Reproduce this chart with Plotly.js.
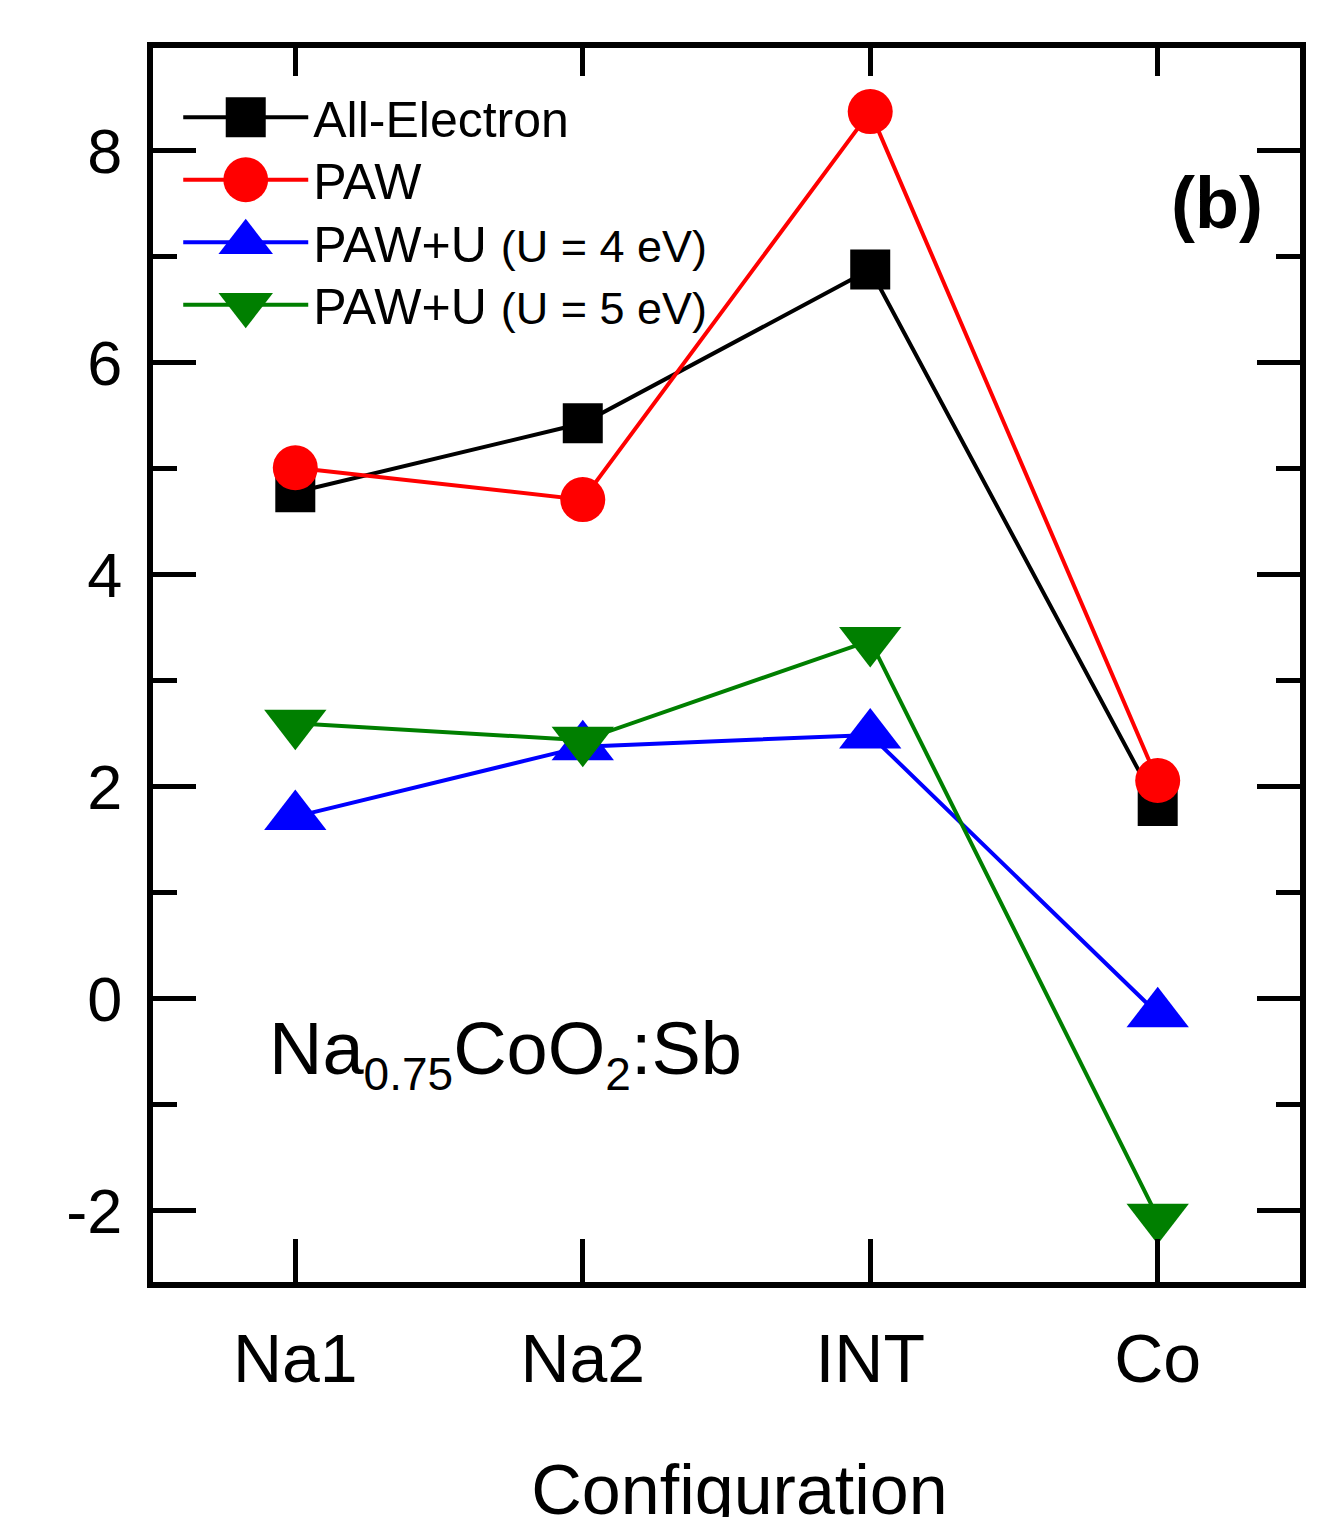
<!DOCTYPE html>
<html>
<head>
<meta charset="utf-8">
<script src="https://cdn.plot.ly/plotly-3.0.1.min.js"></script>
<style>
html,body{margin:0;padding:0;background:#ffffff;}
#chart{width:1324px;height:1517px;}
</style>
</head>
<body>
<div id="chart"></div>
<script>
// ---- data ----
const categories = ["Na1", "Na2", "INT", "Co"];
const allElectron = [4.78, 5.43, 6.88, 1.82];
const paw = [5.01, 4.71, 8.37, 2.06];
const pawU4 = [1.72, 2.38, 2.49, -0.14];
const pawU5 = [2.60, 2.44, 3.38, -2.06];
const seriesNames = [
  "All-Electron",
  "PAW",
  "PAW+U <span style=\"font-size:45px\">(U = 4 eV)</span>",
  "PAW+U <span style=\"font-size:45px\">(U = 5 eV)</span>"
];
const yTickVals = [-2, 0, 2, 4, 6, 8];
const yTickText = ["-2", "0", "2", "4", "6", "8"];

const FONT = "Liberation Sans, Arial, sans-serif";

function mk(y, name, color, symbol, size) {
  return {
    x: categories, y: y, name: name, type: "scatter", mode: "lines+markers",
    line: {color: color, width: 4},
    marker: {color: color, symbol: symbol, size: size, line: {width: 0}},
    cliponaxis: false
  };
}
const traces = [
  mk(allElectron, seriesNames[0], "#000000", "square", 40),
  mk(paw, seriesNames[1], "#ff0000", "circle", 45),
  mk(pawU4, seriesNames[2], "#0000ff", "triangle-up", 54),
  mk(pawU5, seriesNames[3], "#007f00", "triangle-down", 54),
  // carrier for the top (mirrored) tick axis, draws nothing
  {x: categories, y: allElectron, xaxis: "x2", yaxis: "y", type: "scatter", mode: "none",
   showlegend: false, hoverinfo: "skip"}
];
const legendScale = [2.5, 2.8, 2.95, 2.95];

const layout = {
  width: 1324, height: 1517,
  paper_bgcolor: "#ffffff", plot_bgcolor: "#ffffff",
  margin: {l: 153, r: 24, t: 48, b: 235},
  font: {family: FONT, color: "#000000"},
  showlegend: true,
  legend: {
    x: 0.022, y: 0.969, xanchor: "left", yanchor: "top",
    bgcolor: "rgba(0,0,0,0)", borderwidth: 0,
    font: {family: FONT, size: 50, color: "#000000"},
    itemwidth: 125, tracegroupgap: 0
  },
  xaxis: {
    type: "category", categoryarray: categories,
    range: [-0.495, 3.495],
    showline: true, linecolor: "#000000", linewidth: 6, mirror: true,
    ticks: "inside", ticklen: 43, tickwidth: 5, tickcolor: "#000000",
    showgrid: false, zeroline: false,
    tickfont: {family: FONT, size: 68, color: "#000000"},
    ticklabelstandoff: 12,
    title: {text: "Configuration", font: {family: FONT, size: 70, color: "#000000"}, standoff: 100}
  },
  xaxis2: {
    type: "category", categoryarray: categories,
    overlaying: "x", side: "top", anchor: "y",
    range: [-0.495, 3.495],
    showline: false, showgrid: false, zeroline: false,
    ticks: "inside", ticklen: 28, tickwidth: 5, tickcolor: "#000000",
    showticklabels: false
  },
  yaxis: {
    range: [-2.67, 8.97],
    showline: true, linecolor: "#000000", linewidth: 6, mirror: "ticks",
    ticks: "inside", ticklen: 43, tickwidth: 5, tickcolor: "#000000",
    tickvals: yTickVals, ticktext: yTickText,
    minor: {dtick: 1, tick0: 0, ticks: "inside", ticklen: 24, tickwidth: 5, tickcolor: "#000000", showgrid: false},
    showgrid: false, zeroline: false,
    tickfont: {family: FONT, size: 63, color: "#000000"},
    ticklabelstandoff: 12
  },
  annotations: [
    {xref: "paper", yref: "paper", x: 0.9695, y: 0.874, xanchor: "right", yanchor: "middle",
     text: "<b>(b)</b>", showarrow: false, font: {family: FONT, size: 72, color: "#000000"}},
    {xref: "paper", yref: "paper", x: 0.099, y: 0.185, xanchor: "left", yanchor: "middle",
     text: "Na<sub><span style=\"font-size:46px\">0.75</span></sub>CoO<sub><span style=\"font-size:46px\">2</span></sub>:Sb",
     showarrow: false, font: {family: FONT, size: 74, color: "#000000"}}
  ]
};

Plotly.newPlot("chart", traces, layout, {staticPlot: true}).then(function(gd) {
  const items = gd.querySelectorAll(".legend .traces");
  let y0 = null;
  items.forEach(function(g, i) {
    const pts = g.querySelectorAll(".legendpoints path.scatterpts");
    pts.forEach(function(p) {
      const t = p.getAttribute("transform") || "";
      p.setAttribute("transform", t + " scale(" + legendScale[i] + ")");
    });
    const tr = g.getAttribute("transform") || "";
    const m = tr.match(/translate\(\s*([-\d.]+)[ ,]+([-\d.]+)\s*\)/);
    if (m) {
      const tx = parseFloat(m[1]);
      const ty = parseFloat(m[2]);
      if (y0 === null) y0 = ty - 8;
      g.setAttribute("transform", "translate(" + tx + "," + (y0 + i * 62.5) + ")");
    }
  });
  // nudge the x-axis title slightly lower/right as in the reference
  const xt = gd.querySelector(".g-xtitle text");
  if (xt) {
    const t0 = xt.getAttribute("transform") || "";
    xt.setAttribute("transform", "translate(13,12) " + t0);
  }
});
</script>
</body>
</html>
